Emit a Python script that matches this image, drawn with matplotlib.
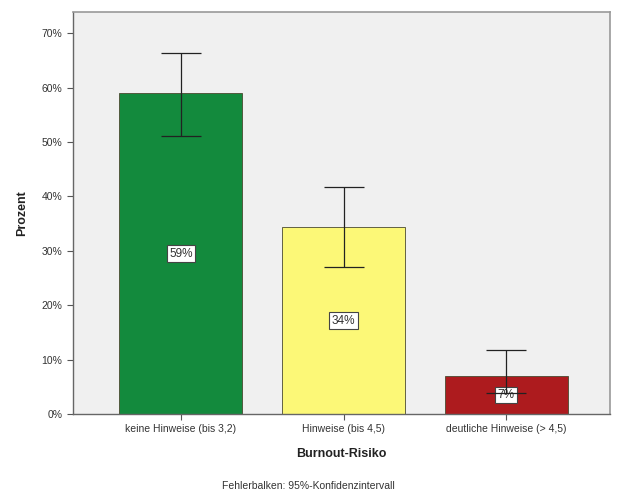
import matplotlib
matplotlib.use("Agg")
import matplotlib.pyplot as plt
import numpy as np
from matplotlib.ticker import FuncFormatter

categories = ["keine Hinweise (bis 3,2)", "Hinweise (bis 4,5)", "deutliche Hinweise (> 4,5)"]
percent = [59, 34.3, 7.0]
ci_low = [51.2, 27.1, 3.9]
ci_high = [66.4, 41.8, 11.7]
labels = ["59%", "34%", "7%"]
colors = ["#138a3d", "#fcf877", "#ad1b1e"]

plt.rcParams['font.family'] = ['Liberation Sans', 'DejaVu Sans']

fig = plt.figure(figsize=(6.17, 4.92), dpi=100)
ax = fig.add_axes([0.118, 0.1585, 0.871, 0.817])
ax.set_facecolor("#f0f0f0")

x = np.arange(len(categories))
ax.bar(x, percent, width=0.757, color=colors, edgecolor="#4a4a30", linewidth=0.6, zorder=2)

for xi, p, lab in zip(x, percent, labels):
    ax.text(xi, p / 2, lab, ha="center", va="center", fontsize=8.5, color="#333333",
            bbox=dict(boxstyle="square,pad=0.2", fc="white", ec="#444444", lw=0.8), zorder=3)

# error bars drawn over the labels, as in the original
err = [np.array(percent) - np.array(ci_low), np.array(ci_high) - np.array(percent)]
ax.errorbar(x, percent, yerr=err, fmt="none", ecolor="#222222", elinewidth=0.9,
            capsize=14.5, capthick=0.9, zorder=4)

ax.set_xlim(-0.665, 2.64)
ax.set_ylim(0, 73.9)
ax.set_yticks(np.arange(0, 71, 10))
ax.yaxis.set_major_formatter(FuncFormatter(lambda v, _: f"{int(v)}%"))
ax.set_xticks(x)
ax.set_xticklabels(categories)
ax.tick_params(axis="both", labelsize=7.5, colors="#555555", labelcolor="#333333", length=4)

for side in ["left", "bottom"]:
    ax.spines[side].set_color("#666666")
    ax.spines[side].set_linewidth(1.0)
for side in ["top", "right"]:
    ax.spines[side].set_color("#999999")
    ax.spines[side].set_linewidth(1.2)

ax.set_ylabel("Prozent", fontsize=9, fontweight="bold", color="#222222", labelpad=10)
ax.set_xlabel("Burnout-Risiko", fontsize=9, fontweight="bold", color="#222222", labelpad=10)
fig.text(0.5, 0.002, "Fehlerbalken: 95%-Konfidenzintervall", ha="center", va="bottom",
         fontsize=7.5, color="#333333")

fig.savefig("out.png", dpi=100)
